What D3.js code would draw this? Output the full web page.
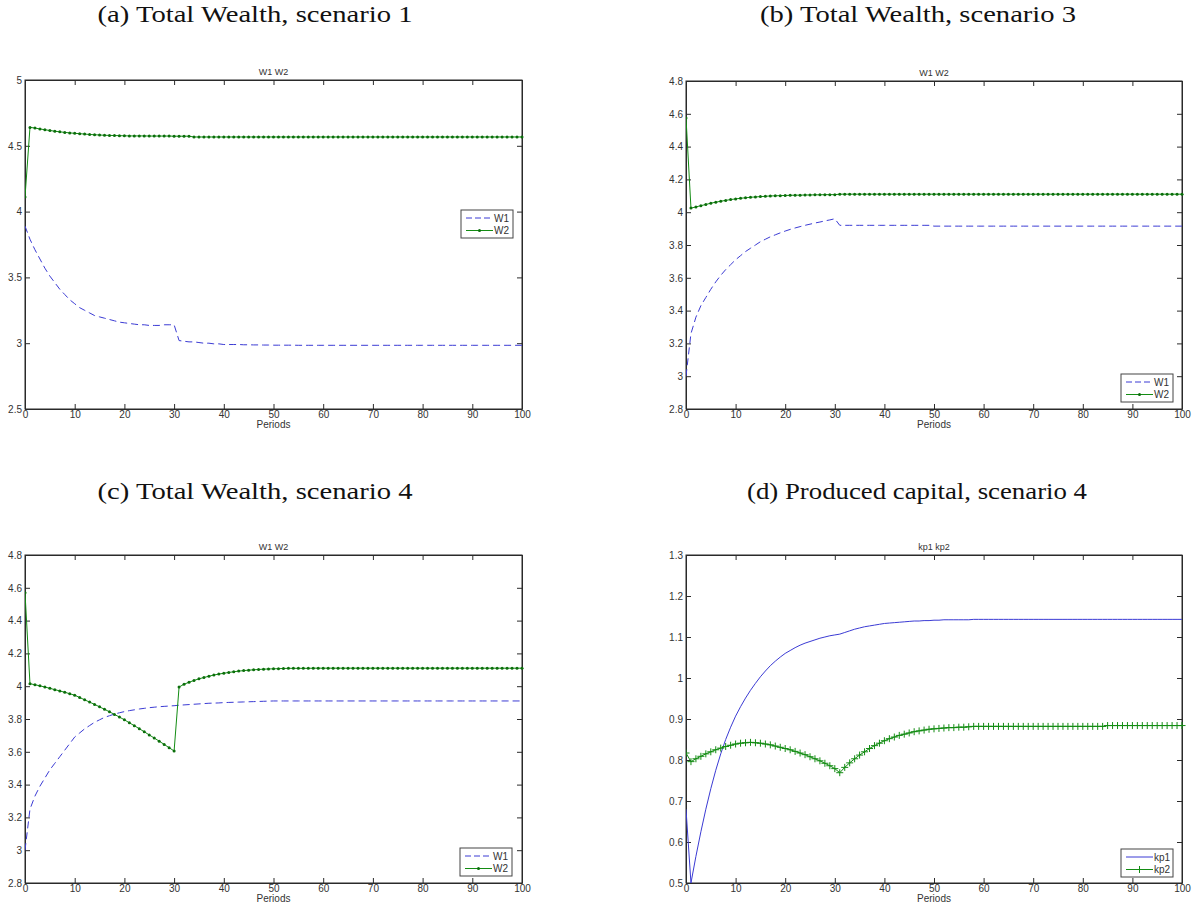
<!DOCTYPE html>
<html><head><meta charset="utf-8">
<script src="https://cdn.jsdelivr.net/npm/d3@7"></script>
<style>body{margin:0;background:#fff}</style>
</head><body><svg id="c" width="1192" height="906"></svg>
<script>
// ---------- data ----------
const periods = d3.range(0, 101);
const xTicks = [0, 10, 20, 30, 40, 50, 60, 70, 80, 90, 100];
const captions = ["(a) Total Wealth, scenario 1", "(b) Total Wealth, scenario 3", "(c) Total Wealth, scenario 4", "(d) Produced capital, scenario 4"];
const axisTitles = ["W1 W2", "W1 W2", "W1 W2", "kp1 kp2"];
const xLabel = "Periods";
const yTicksA = [2.5, 3, 3.5, 4, 4.5, 5];
const yTicksBC = [2.8, 3, 3.2, 3.4, 3.6, 3.8, 4, 4.2, 4.4, 4.6, 4.8];
const yTicksD = [0.5, 0.6, 0.7, 0.8, 0.9, 1, 1.1, 1.2, 1.3];
const legendW = ["W1", "W2"];
const legendK = ["kp1", "kp2"];

const W1_s1 = [3.89,3.79,3.71,3.64,3.57,3.51,3.46,3.41,3.37,3.33,3.30,3.27,3.25,3.23,3.21,3.20,3.19,3.18,3.17,3.16,3.155,3.15,3.145,3.14,3.14,3.135,3.135,3.135,3.14,3.14,3.14,
 3.02,3.015,3.01,3.01,3.005,3.0,3.0,2.995,2.995,2.99,2.99,2.99,2.99,2.988,2.988,2.987,2.987,2.986,2.986,2.985,
 2.985,2.985,2.985,2.985,2.984,2.984,2.984,2.984,2.984,2.984,2.984,2.984,2.984,2.984,2.984,2.984,2.984,2.984,2.984,2.984,
 2.984,2.984,2.984,2.984,2.984,2.984,2.984,2.984,2.984,2.984,2.984,2.984,2.984,2.984,2.984,2.984,2.984,2.984,2.984,2.984,
 2.984,2.984,2.984,2.984,2.984,2.984,2.984,2.984,2.984,2.984];
const W2_s1 = [4.11,4.64,4.635,4.628,4.622,4.616,4.611,4.606,4.602,4.598,4.595,4.592,4.589,4.586,4.584,4.582,4.58,4.579,4.578,4.577,4.576,
 4.575,4.575,4.575,4.575,4.574,4.574,4.574,4.574,4.574,4.573,4.573,4.573,4.573,4.567,4.567,4.567,4.567,4.567,4.567,4.567,
 4.567,4.567,4.567,4.567,4.567,4.567,4.567,4.567,4.567,4.567,4.567,4.567,4.567,4.567,4.567,4.567,4.567,4.567,4.567,4.567,
 4.567,4.567,4.567,4.567,4.567,4.567,4.567,4.567,4.567,4.567,4.567,4.567,4.567,4.567,4.567,4.567,4.567,4.567,4.567,4.567,
 4.567,4.567,4.567,4.567,4.567,4.567,4.567,4.567,4.567,4.567,4.567,4.567,4.567,4.567,4.567,4.567,4.567,4.567,4.567,4.567];

const W1_s3 = [3.0,3.26,3.36,3.43,3.48,3.53,3.575,3.615,3.65,3.68,3.71,3.735,3.76,3.78,3.80,3.82,3.835,3.85,3.862,3.874,3.885,
 3.895,3.904,3.912,3.92,3.927,3.934,3.94,3.947,3.953,3.96,3.92,3.92,3.92,3.92,3.92,3.92,3.92,3.92,3.92,3.92,
 3.92,3.92,3.92,3.92,3.92,3.92,3.92,3.92,3.92,3.915,3.915,3.915,3.915,3.915,3.915,3.915,3.915,3.915,3.915,3.915,
 3.915,3.915,3.915,3.915,3.915,3.915,3.915,3.915,3.915,3.915,3.915,3.915,3.915,3.915,3.915,3.915,3.915,3.915,3.915,3.915,
 3.915,3.915,3.915,3.915,3.915,3.915,3.915,3.915,3.915,3.915,3.915,3.915,3.915,3.915,3.915,3.915,3.915,3.915,3.915,3.915];
const W2_s3 = [4.575,4.025,4.032,4.04,4.047,4.055,4.061,4.067,4.072,4.077,4.081,4.085,4.088,4.091,4.093,4.095,4.097,4.099,4.1,4.101,4.102,
 4.103,4.104,4.104,4.105,4.105,4.106,4.106,4.107,4.107,4.107,4.11,4.11,4.11,4.11,4.11,4.11,4.11,4.11,4.11,4.11,
 4.11,4.11,4.11,4.11,4.11,4.11,4.11,4.11,4.11,4.11,4.11,4.11,4.11,4.11,4.11,4.11,4.11,4.11,4.11,4.11,
 4.11,4.11,4.11,4.11,4.11,4.11,4.11,4.11,4.11,4.11,4.11,4.11,4.11,4.11,4.11,4.11,4.11,4.11,4.11,4.11,
 4.11,4.11,4.11,4.11,4.11,4.11,4.11,4.11,4.11,4.11,4.11,4.11,4.11,4.11,4.11,4.11,4.11,4.11,4.11,4.11];

const W1_s4 = [3.0,3.25,3.33,3.39,3.44,3.49,3.53,3.57,3.61,3.65,3.69,3.715,3.74,3.76,3.78,3.795,3.81,3.82,3.83,3.838,3.845,
 3.851,3.856,3.861,3.865,3.869,3.872,3.875,3.877,3.879,3.881,3.884,3.886,3.888,3.89,3.892,3.894,3.896,3.897,3.898,3.9,
 3.901,3.902,3.903,3.904,3.905,3.906,3.907,3.908,3.909,3.91,3.91,3.91,3.91,3.91,3.91,3.91,3.91,3.91,3.91,3.91,
 3.91,3.91,3.91,3.91,3.91,3.91,3.91,3.91,3.91,3.91,3.91,3.91,3.91,3.91,3.91,3.91,3.91,3.91,3.91,3.91,
 3.91,3.91,3.91,3.91,3.91,3.91,3.91,3.91,3.91,3.91,3.91,3.91,3.91,3.91,3.91,3.91,3.91,3.91,3.91,3.91];
const W2_s4 = [4.57,4.015,4.009,4.002,3.995,3.987,3.979,3.971,3.963,3.954,3.945,3.931,3.917,3.903,3.889,3.874,3.859,3.844,3.828,3.812,3.795,
 3.777,3.759,3.741,3.722,3.703,3.684,3.665,3.645,3.625,3.605,3.995,4.012,4.024,4.035,4.045,4.053,4.061,4.068,4.074,4.079,
 4.084,4.088,4.092,4.095,4.098,4.1,4.102,4.104,4.105,4.106,4.107,4.108,4.109,4.109,4.109,4.109,4.109,4.11,4.11,4.11,
 4.11,4.11,4.11,4.11,4.11,4.11,4.11,4.11,4.11,4.11,4.11,4.11,4.11,4.11,4.11,4.11,4.11,4.11,4.11,4.11,
 4.11,4.11,4.11,4.11,4.11,4.11,4.11,4.11,4.11,4.11,4.11,4.11,4.11,4.11,4.11,4.11,4.11,4.11,4.11,4.11];

const kp1_s4 = [0.68,0.50,0.565,0.625,0.68,0.73,0.775,0.815,0.85,0.88,0.907,0.93,0.951,0.97,0.987,1.003,1.017,1.03,1.041,1.051,1.06,
 1.067,1.074,1.08,1.085,1.089,1.093,1.097,1.1,1.103,1.105,1.107,1.111,1.115,1.119,1.122,1.125,1.127,1.129,1.131,1.133,
 1.134,1.135,1.136,1.137,1.138,1.139,1.139,1.14,1.14,1.141,1.141,1.142,1.142,1.142,1.142,1.142,1.142,1.143,1.143,1.143,
 1.143,1.143,1.143,1.143,1.143,1.143,1.143,1.143,1.143,1.143,1.143,1.143,1.143,1.143,1.143,1.143,1.143,1.143,1.143,1.143,
 1.143,1.143,1.143,1.143,1.143,1.143,1.143,1.143,1.143,1.143,1.143,1.143,1.143,1.143,1.143,1.143,1.143,1.143,1.143,1.143];
const kp2_s4 = [0.817,0.796,0.803,0.809,0.815,0.82,0.825,0.829,0.833,0.836,0.839,0.841,0.842,0.843,0.842,0.841,0.839,0.837,0.834,0.831,0.828,
 0.825,0.821,0.817,0.813,0.808,0.803,0.798,0.792,0.786,0.779,0.769,0.782,0.793,0.803,0.812,0.82,0.828,0.835,0.841,0.847,
 0.852,0.856,0.86,0.863,0.866,0.869,0.871,0.873,0.875,0.876,0.877,0.878,0.879,0.879,0.88,0.88,0.881,0.882,0.882,0.882,
 0.882,0.882,0.882,0.882,0.882,0.882,0.882,0.882,0.882,0.882,0.882,0.882,0.882,0.882,0.882,0.882,0.882,0.882,0.882,0.882,
 0.882,0.882,0.882,0.882,0.884,0.884,0.884,0.884,0.884,0.884,0.884,0.884,0.884,0.884,0.884,0.884,0.884,0.884,0.884,0.884];

// ---------- styles ----------
const BLUE = "#3b3bd4", GREEN = "#138c13", AXC = "#2b2b2b", TXT = "#333";
const SANS = "'Liberation Sans',Arial,sans-serif";
const svg = d3.select("#c");

function fmt(v){ return String(+v.toFixed(2)); }

function panel(cfg){
  const x = d3.scaleLinear().domain([0,100]).range([cfg.x0, cfg.x1]);
  const y = d3.scaleLinear().domain(cfg.domain).range([cfg.y1, cfg.y0]);
  const g = svg.append("g");

  // caption
  svg.append("text").attr("x", cfg.cx).attr("y", cfg.capY)
    .attr("text-anchor","middle").attr("font-family","'Liberation Serif','DejaVu Serif',serif")
    .attr("font-size", 23).attr("fill","#111")
    .attr("textLength", cfg.capW).attr("lengthAdjust","spacingAndGlyphs").text(cfg.caption);

  // axes (MATLAB-style inward ticks on all 4 sides)
  const tl = 5;
  g.append("g").attr("transform",`translate(0,${cfg.y1})`)
    .call(d3.axisBottom(x).tickValues(xTicks).tickSizeInner(-tl).tickSizeOuter(0).tickPadding(2).tickFormat(d3.format("d")));
  g.append("g").attr("transform",`translate(0,${cfg.y0})`)
    .call(d3.axisTop(x).tickValues(xTicks).tickSizeInner(-tl).tickSizeOuter(0).tickFormat(""));
  g.append("g").attr("transform",`translate(${cfg.x0},0)`)
    .call(d3.axisLeft(y).tickValues(cfg.yTicks).tickSizeInner(-tl).tickSizeOuter(0).tickPadding(3).tickFormat(fmt));
  g.append("g").attr("transform",`translate(${cfg.x1},0)`)
    .call(d3.axisRight(y).tickValues(cfg.yTicks).tickSizeInner(-tl).tickSizeOuter(0).tickFormat(""));
  g.selectAll(".domain").attr("stroke", AXC);
  g.selectAll(".tick line").attr("stroke", AXC);
  g.selectAll(".tick text").attr("font-family",SANS).attr("font-size",10).attr("fill",TXT);
  g.append("rect").attr("x",cfg.x0).attr("y",cfg.y0).attr("width",cfg.x1-cfg.x0).attr("height",cfg.y1-cfg.y0)
    .attr("fill","none").attr("stroke",AXC).attr("stroke-width",1);

  // title & x label
  g.append("text").attr("x",(cfg.x0+cfg.x1)/2).attr("y",cfg.y0-5).attr("text-anchor","middle")
    .attr("font-family",SANS).attr("font-size",9).attr("fill",TXT).text(cfg.title);
  g.append("text").attr("x",(cfg.x0+cfg.x1)/2).attr("y",cfg.y1+19).attr("text-anchor","middle")
    .attr("font-family",SANS).attr("font-size",10).attr("fill",TXT).text(xLabel);

  const line = d3.line().x((d,i)=>x(periods[i])).y(d=>y(d));
  const clipId = "clip"+cfg.id;
  g.append("clipPath").attr("id",clipId).append("rect").attr("x",cfg.x0).attr("y",cfg.y0).attr("width",cfg.x1-cfg.x0+4).attr("height",cfg.y1-cfg.y0);
  const pg = g.append("g").attr("clip-path",`url(#${clipId})`);

  pg.append("path").datum(cfg.s1).attr("d",line).attr("fill","none").attr("stroke",BLUE).attr("stroke-width",1)
    .attr("stroke-dasharray", cfg.dash ? "7,4" : null);
  pg.append("path").datum(cfg.s2).attr("d",line).attr("fill","none").attr("stroke",GREEN).attr("stroke-width",1);
  drawMarkers(pg, cfg.s2.map((v,i)=>[x(periods[i]), y(v)]), cfg.marker);

  // legend
  const L = g.append("g").attr("transform",`translate(${cfg.lx},${cfg.ly})`);
  L.append("rect").attr("width",52).attr("height",28).attr("fill","#fff").attr("stroke","#444").attr("stroke-width",1);
  const names = cfg.legend;
  [0,1].forEach(k=>{
    const yy = 8 + k*12.5;
    L.append("line").attr("x1",5).attr("x2",32).attr("y1",yy).attr("y2",yy)
      .attr("stroke", k===0?BLUE:GREEN).attr("stroke-width",1)
      .attr("stroke-dasharray", (k===0 && cfg.dash) ? "6,3" : null);
    L.append("text").attr("x",33).attr("y",yy+3.5).attr("font-family",SANS)
      .attr("font-size",10).attr("fill",TXT).text(names[k]);
  });
  drawMarkers(L, [[18.5, 8+12.5]], cfg.marker);
}

function drawMarkers(sel, pts, type){
  if(type==="dot"){
    sel.selectAll(null).data(pts).enter().append("circle")
      .attr("cx",d=>d[0]).attr("cy",d=>d[1]).attr("r",1.5).attr("fill","#0b6e0b");
  } else if(type==="plus"){
    const s = 3.5;
    sel.selectAll(null).data(pts).enter().append("path")
      .attr("d",d=>`M${d[0]-s},${d[1]}H${d[0]+s}M${d[0]},${d[1]-s}V${d[1]+s}`)
      .attr("stroke",GREEN).attr("stroke-width",1).attr("fill","none");
  }
}

panel({id:"a", x0:25, x1:522, y0:80, y1:409, domain:[2.5,5], yTicks:yTicksA, s1:W1_s1, s2:W2_s1, dash:true, marker:"dot",
  legend:legendW, lx:461, ly:210, title:axisTitles[0], caption:captions[0], cx:255, capY:22, capW:315});
panel({id:"b", x0:686, x1:1182, y0:81, y1:409, domain:[2.8,4.8], yTicks:yTicksBC, s1:W1_s3, s2:W2_s3, dash:true, marker:"dot",
  legend:legendW, lx:1121, ly:374, title:axisTitles[1], caption:captions[1], cx:918, capY:22, capW:316});
panel({id:"c", x0:25, x1:522, y0:555, y1:883, domain:[2.8,4.8], yTicks:yTicksBC, s1:W1_s4, s2:W2_s4, dash:true, marker:"dot",
  legend:legendW, lx:460, ly:848, title:axisTitles[2], caption:captions[2], cx:255, capY:499, capW:315});
panel({id:"d", x0:686, x1:1182, y0:555, y1:883, domain:[0.5,1.3], yTicks:yTicksD, s1:kp1_s4, s2:kp2_s4, dash:false, marker:"plus",
  legend:legendK, lx:1121, ly:849, title:axisTitles[3], caption:captions[3], cx:917, capY:499, capW:340});
</script>
</body></html>
